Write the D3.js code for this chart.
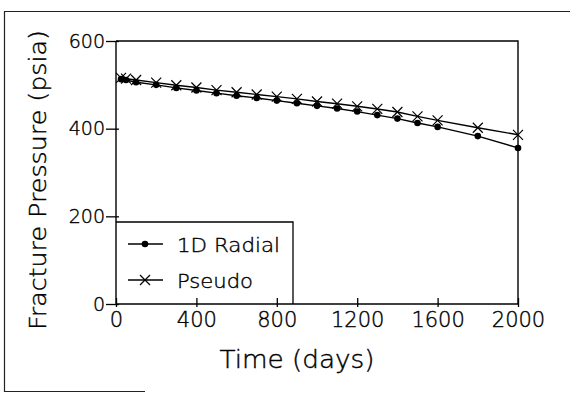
<!DOCTYPE html>
<html>
<head>
<meta charset="utf-8">
<script src="https://cdn.jsdelivr.net/npm/d3@7"></script>
<style>
  body { margin: 0; background: #fff; }
  text { font-family: "DejaVu Sans", sans-serif; font-weight: 200; fill: #000; stroke: #000; stroke-width: 0.4px; }
</style>
</head>
<body>
<script>
const width = 570,
  height = 393;

// data
const times = [25, 50, 100, 200, 300, 400, 500, 600, 700, 800, 900, 1000,
  1100, 1200, 1300, 1400, 1500, 1600, 1800, 2000];
const radial = [513, 511, 506, 500, 493, 487, 481, 475, 470, 464, 458, 452,
  446, 439, 431, 423, 413, 404, 383, 356];
const pseudo = [516, 514, 511, 505, 499, 494, 488, 483, 478, 473, 468, 462,
  457, 451, 445, 438, 428, 419, 402, 386];
const xTicks = [0, 400, 800, 1200, 1600, 2000];
const yTicks = [0, 200, 400, 600];
const seriesNames = ['1D Radial', 'Pseudo'];

const margin = {left: 116, right: 52, top: 41, bottom: 89};

const x = d3.scaleLinear()
  .domain([0, 2000])
  .range([margin.left, width - margin.right]);

const y = d3.scaleLinear()
  .domain([0, 600])
  .range([height - margin.bottom, margin.top]);

const svg = d3.select('body').append('svg')
  .attr('width', width)
  .attr('height', height);

// scanned page frame
svg.append('path')
  .attr('d', 'M570,11.5H4.5V391.5H145')
  .attr('fill', 'none')
  .attr('stroke', '#222')
  .attr('stroke-width', 1.2);

// plot box (top and right)
svg.append('path')
  .attr('d', `M${x(0)},${y(600)}H${x(2000)}V${y(0)}`)
  .attr('fill', 'none')
  .attr('stroke', '#000')
  .attr('stroke-width', 1.4);

const xAxis = svg.append('g')
  .attr('transform', `translate(0,${y(0)})`)
  .call(d3.axisBottom(x).tickValues(xTicks).tickFormat(d3.format('d')).tickSize(3).tickPadding(5));
xAxis.selectAll('.tick line').attr('y1', 3).attr('y2', -6).attr('stroke-width', 1.3);
xAxis.select('.domain').attr('d', `M${x(0)},0H${x(2000)}`).attr('stroke-width', 1.4);
xAxis.selectAll('.tick text')
  .attr('font-size', 21)
  .attr('font-family', '"DejaVu Sans", sans-serif');

const yAxis = svg.append('g')
  .attr('transform', `translate(${x(0)},0)`)
  .call(d3.axisLeft(y).tickValues(yTicks).tickSize(10).tickPadding(1));
yAxis.selectAll('.tick line').attr('x1', 3).attr('x2', -10).attr('stroke-width', 1.3);
yAxis.select('.domain').attr('d', `M0,${y(600)}V${y(0)}`).attr('stroke-width', 1.4);
yAxis.selectAll('.tick text')
  .attr('font-size', 19)
  .attr('font-family', '"DejaVu Sans", sans-serif');

// axis titles
svg.append('text')
  .attr('x', 297)
  .attr('y', 368)
  .attr('text-anchor', 'middle')
  .attr('font-size', 25)
  .attr('textLength', 155)
  .attr('lengthAdjust', 'spacingAndGlyphs')
  .text('Time (days)');

svg.append('text')
  .attr('transform', 'translate(46,180) rotate(-90)')
  .attr('text-anchor', 'middle')
  .attr('font-size', 23)
  .attr('textLength', 300)
  .attr('lengthAdjust', 'spacingAndGlyphs')
  .text('Fracture Pressure (psia)');

// series
const line = d3.line()
  .x(d => x(d[0]))
  .y(d => y(d[1]));

const radialPts = times.map((t, i) => [t, radial[i]]);
const pseudoPts = times.map((t, i) => [t, pseudo[i]]);

[radialPts, pseudoPts].forEach(pts => {
  svg.append('path')
    .datum(pts)
    .attr('fill', 'none')
    .attr('stroke', '#000')
    .attr('stroke-width', 1.4)
    .attr('d', line);
});

svg.append('g')
  .selectAll('circle')
  .data(radialPts)
  .enter().append('circle')
  .attr('cx', d => x(d[0]))
  .attr('cy', d => y(d[1]))
  .attr('r', 3.3)
  .attr('fill', '#000');

const cross = 'M-5,-5L5,5M-5,5L5,-5';
svg.append('g')
  .selectAll('path')
  .data(pseudoPts)
  .enter().append('path')
  .attr('transform', d => `translate(${x(d[0])},${y(d[1])})`)
  .attr('d', cross)
  .attr('stroke', '#000')
  .attr('stroke-width', 1.2);

// legend
const legend = svg.append('g');
legend.append('path')
  .attr('d', `M${x(0)},222H293V${y(0)}`)
  .attr('fill', 'none')
  .attr('stroke', '#000')
  .attr('stroke-width', 1.3);

const legendLen = [103, 76];
seriesNames.forEach((name, i) => {
  const ly = 244 + i * 36;
  legend.append('line')
    .attr('x1', 128).attr('x2', 163)
    .attr('y1', ly).attr('y2', ly)
    .attr('stroke', '#000')
    .attr('stroke-width', 1.4);
  if (i === 0) {
    legend.append('circle')
      .attr('cx', 145).attr('cy', ly).attr('r', 3.3).attr('fill', '#000');
  } else {
    legend.append('path')
      .attr('transform', `translate(145,${ly})`)
      .attr('d', cross)
      .attr('stroke', '#000')
      .attr('stroke-width', 1.2);
  }
  legend.append('text')
    .attr('x', 177)
    .attr('y', ly + 8)
    .attr('font-size', 20)
    .attr('textLength', legendLen[i])
    .attr('lengthAdjust', 'spacingAndGlyphs')
    .text(name);
});
</script>
</body>
</html>
